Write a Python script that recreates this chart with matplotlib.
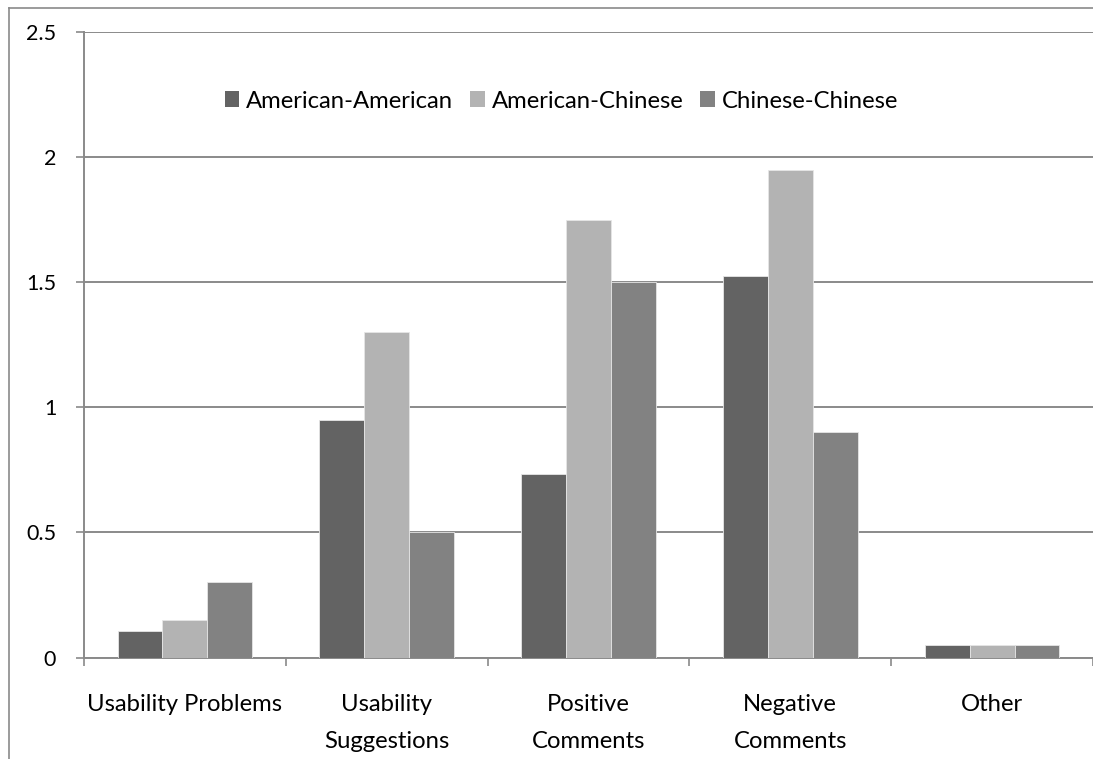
import numpy as np
import matplotlib
matplotlib.use('Agg')
import matplotlib.pyplot as plt
from matplotlib.lines import Line2D

categories = ['Usability Problems', 'Usability\nSuggestions', 'Positive\nComments',
              'Negative\nComments', 'Other']
series_names = ['American-American', 'American-Chinese', 'Chinese-Chinese']
american_american = [0.105, 0.95, 0.735, 1.525, 0.05]
american_chinese = [0.15, 1.30, 1.75, 1.95, 0.05]
chinese_chinese = [0.30, 0.50, 1.50, 0.90, 0.05]
y_ticks = [0, 0.5, 1, 1.5, 2, 2.5]
y_tick_labels = ['0', '0.5', '1', '1.5', '2', '2.5']

colors = ['#636363', '#b3b3b3', '#828282']
grid_color = '#8a8a8a'

plt.rcParams['font.family'] = ['Lato', 'DejaVu Sans']

W, H = 1093, 759
fig = plt.figure(figsize=(W / 100, H / 100), dpi=100)
ax = fig.add_axes([84 / W, 1 - 657.5 / H, (W - 84) / W + 0.01, (657.5 - 32) / H])

x = np.arange(len(categories))
bar_w = 1 / 4.5
for i, (vals, name) in enumerate(zip([american_american, american_chinese, chinese_chinese],
                                     series_names)):
    ax.bar(x + (i - 1) * bar_w, vals, width=bar_w, color=colors[i], label=name,
           edgecolor='#e6e6e6', linewidth=0.6, zorder=3)

ax.set_xlim(-0.5, len(categories) - 0.5 + 0.01 * W / (W - 84) * len(categories))
ax.set_ylim(0, 2.5)

# gridlines
ax.set_yticks(y_ticks)
ax.set_yticklabels(y_tick_labels, fontsize=15.5)
ax.yaxis.grid(True, color=grid_color, linewidth=1.4, zorder=0)
ax.tick_params(axis='y', length=6, width=1.2, color=grid_color, pad=14)

ax.set_xticks(x)
ax.set_xticklabels(categories, fontsize=17.2, linespacing=1.95)
ax.set_xticks(np.arange(-0.5, len(categories) + 0.5, 1), minor=True)
ax.tick_params(axis='x', which='major', length=0, pad=26)
ax.tick_params(axis='x', which='minor', length=6, width=1.2, color=grid_color)

for s in ['top', 'right']:
    ax.spines[s].set_visible(False)
for s in ['left', 'bottom']:
    ax.spines[s].set_color(grid_color)
    ax.spines[s].set_linewidth(1.4)

leg = fig.legend(loc='center', bbox_to_anchor=(561.5 / W, 1 - 101 / H), ncol=3,
                 frameon=False, fontsize=17.2, handlelength=0.6, handleheight=0.6,
                 handletextpad=0.3, columnspacing=0.7)
for h in leg.legend_handles:
    h.set_edgecolor('none')

# outer chart border (cropped)
fig.add_artist(Line2D([9 / W, 9 / W], [0, 1 - 8 / H], color=grid_color, linewidth=1.2))
fig.add_artist(Line2D([9 / W, 1], [1 - 8 / H, 1 - 8 / H], color=grid_color, linewidth=1.2))

fig.savefig('out.png', dpi=100, facecolor='white')
